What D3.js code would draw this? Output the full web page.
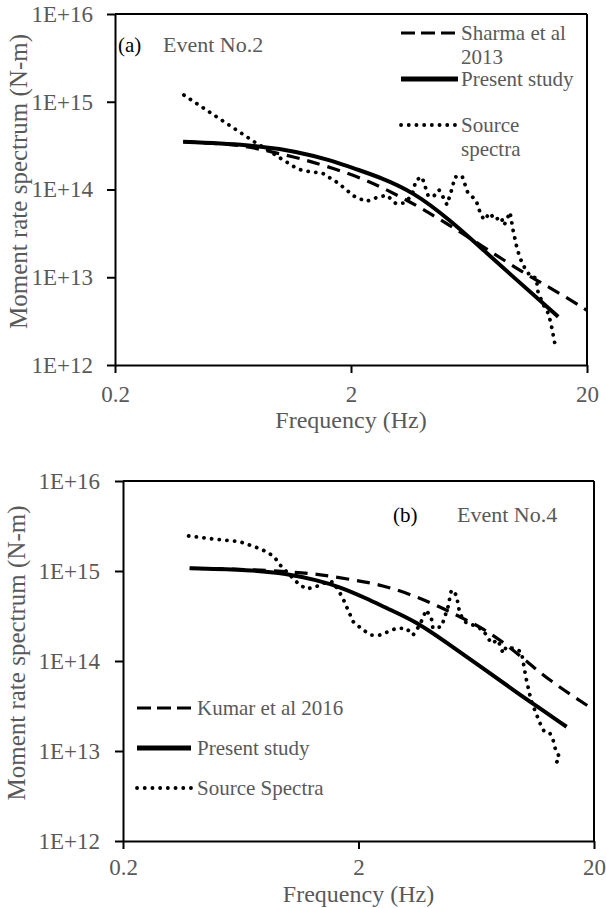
<!DOCTYPE html>
<html><head><meta charset="utf-8">
<script src="https://cdn.jsdelivr.net/npm/d3@7"></script>
<style>body{margin:0;background:#fff}svg{display:block}</style>
</head><body><svg id="c" width="606" height="908"></svg>
<script>
// ---------- data ----------
const xTicks = [0.2, 2, 20];
const xTickLabels = ["0.2", "2", "20"];
const yTicks = [1e12, 1e13, 1e14, 1e15, 1e16];
const yTickLabels = ["1E+12", "1E+13", "1E+14", "1E+15", "1E+16"];

// Panel (a) Event No.2
const aPresentF = [0.389, 0.797, 1.18, 1.63, 2.11, 2.65, 3.67, 5.25, 7.27, 10.07, 13.06, 15.1];
const aPresentM = [3.5e14, 3.2e14, 2.7e14, 2.17e14, 1.70e14, 1.38e14, 9.4e13, 4.5e13, 2.05e13, 9.3e12, 5.05e12, 3.55e12];
const aSharmaF = [0.389, 0.677, 0.907, 1.216, 1.68, 2.33, 2.83, 3.44, 4.19, 5.09, 7.27, 11.1, 13.9, 20];
const aSharmaM = [3.5e14, 3.26e14, 2.7e14, 2.27e14, 1.75e14, 1.28e14, 9.9e13, 7.6e13, 5.6e13, 4.1e13, 2.23e13, 1.06e13, 7.7e12, 4.2e12];
const aSourceF = [0.392, 0.792, 0.848, 1.00, 1.17, 1.26, 1.51, 1.76, 2.06, 2.32, 2.60, 2.84, 3.10, 3.35, 3.63, 3.77, 4.00, 4.24, 4.45, 4.72, 4.91, 5.10, 5.31, 5.52, 5.91, 6.26, 6.77, 7.04, 7.32, 7.76, 8.15, 8.64, 8.90, 9.44, 9.72, 10.1, 10.4, 10.9, 11.5, 12.2, 12.4, 13.1, 13.7, 14.1, 14.6];
const aSourceM = [1.19e15, 3.39e14, 3.05e14, 2.29e14, 1.76e14, 1.63e14, 1.54e14, 1.19e14, 8.4e13, 7.3e13, 8.2e13, 8.6e13, 6.9e13, 7.0e13, 8.6e13, 1.28e14, 1.39e14, 8.6e13, 8.2e13, 9.9e13, 8.2e13, 6.7e13, 9.4e13, 1.39e14, 1.43e14, 9.1e13, 7.6e13, 5.5e13, 4.5e13, 5.4e13, 4.5e13, 4.9e13, 3.9e13, 5.5e13, 3.46e13, 2.15e13, 1.66e13, 1.27e13, 1.03e13, 9.8e12, 6.8e12, 4.8e12, 3.9e12, 2.9e12, 1.78e12];

// Panel (b) Event No.4
const bPresentF = [0.384, 0.690, 0.988, 1.33, 1.66, 2.16, 2.71, 3.52, 4.88, 6.76, 9.37, 11.4, 15.3];
const bPresentM = [1.07e15, 1.03e15, 9.4e14, 7.9e14, 6.7e14, 4.98e14, 3.72e14, 2.73e14, 1.51e14, 8.3e13, 4.5e13, 3.16e13, 1.86e13];
const bKumarF = [0.384, 0.690, 0.988, 1.33, 1.83, 2.54, 3.52, 4.43, 5.38, 6.76, 8.77, 11.0, 13.8, 20];
const bKumarM = [1.07e15, 1.045e15, 9.8e14, 9.3e14, 8.1e14, 7.0e14, 5.2e14, 4.0e14, 3.1e14, 2.31e14, 1.44e14, 8.6e13, 5.4e13, 2.86e13];
const bSourceF = [0.380, 0.497, 0.624, 0.725, 0.813, 0.877, 0.928, 1.107, 1.20, 1.32, 1.42, 1.56, 1.71, 1.78, 1.90, 2.09, 2.27, 2.46, 2.67, 2.90, 3.19, 3.41, 3.64, 3.88, 4.08, 4.14, 4.50, 4.65, 4.80, 4.96, 5.21, 5.38, 5.65, 6.13, 6.76, 7.33, 7.82, 8.22, 8.49, 9.06, 9.83, 10.3, 10.8, 11.2, 11.8, 12.3, 13.0, 13.4, 13.8, 14.3, 13.8];
const bSourceM = [2.45e15, 2.25e15, 2.12e15, 1.86e15, 1.64e15, 1.44e15, 1.17e15, 7.3e14, 6.3e14, 6.7e14, 7.3e14, 7.6e14, 5.1e14, 4.0e14, 2.73e14, 2.21e14, 1.94e14, 1.94e14, 2.12e14, 2.31e14, 2.31e14, 1.94e14, 2.51e14, 3.69e14, 2.98e14, 2.31e14, 2.40e14, 3.10e14, 4.0e14, 6.15e14, 5.4e14, 3.39e14, 2.73e14, 2.51e14, 2.21e14, 1.57e14, 1.71e14, 1.22e14, 1.44e14, 1.38e14, 1.27e14, 6.4e13, 3.69e13, 2.86e13, 2.03e13, 1.64e13, 1.57e13, 1.33e13, 9.8e12, 8.6e12, 7.3e12];

// ---------- drawing ----------
const svg = d3.select("#c");
const GRAY = "#595959";
const SERIF = "'Liberation Serif','Times New Roman',serif";

function zip(F, M) { return F.map((f, i) => ({f, m: M[i]})); }

const panels = [
  {L:115, R:587, T:14, B:365, xPad:13, yPad:14, xTitleY:428, yTitleX:27,
   series:[
     {F:aSharmaF, M:aSharmaM, type:"dash", curve:d3.curveBasis},
     {F:aPresentF, M:aPresentM, type:"solid", curve:d3.curveBasis},
     {F:aSourceF, M:aSourceM, type:"dot", curve:d3.curveLinear}
   ],
   tag:"(a)", tagX:118, tagY:52, title:"Event No.2", titleX:163, titleY:52,
   legend:{x1:401, x2:458, tx:461, rows:[
     {type:"dash", y:33, lines:["Sharma et al", "2013"]},
     {type:"solid", y:79, lines:["Present study"]},
     {type:"dot", y:125, lines:["Source", "spectra"]}
   ]}},
  {L:123, R:594, T:481, B:841, xPad:9.5, yPad:15, xTitleY:902, yTitleX:25,
   series:[
     {F:bKumarF, M:bKumarM, type:"dash", curve:d3.curveBasis},
     {F:bPresentF, M:bPresentM, type:"solid", curve:d3.curveBasis},
     {F:bSourceF, M:bSourceM, type:"dot", curve:d3.curveLinear}
   ],
   tag:"(b)", tagX:393, tagY:522, title:"Event No.4", titleX:457, titleY:522,
   legend:{x1:137, x2:191, tx:197, rows:[
     {type:"dash", y:708, lines:["Kumar et al 2016"]},
     {type:"solid", y:748, lines:["Present study"]},
     {type:"dot", y:788, lines:["Source Spectra"]}
   ]}}
];

function styleLine(sel, type, legend) {
  sel.attr("fill", "none").attr("stroke", "#000");
  if (type === "solid") sel.attr("stroke-width", legend ? 5 : 4).attr("stroke-linejoin", "round");
  if (type === "dash") sel.attr("stroke-width", 3.2).attr("stroke-dasharray", legend ? "14 6" : "13 8");
  if (type === "dot") sel.attr("stroke-width", 3.8).attr("stroke-linecap", "round").attr("stroke-dasharray", "0.1 7.6");
  return sel;
}

panels.forEach(p => {
  const x = d3.scaleLog().domain([0.2, 20]).range([p.L, p.R]);
  const y = d3.scaleLog().domain([1e12, 1e16]).range([p.B, p.T]);
  const g = svg.append("g");

  // frame (top + right)
  g.append("line").attr("x1", p.L).attr("x2", p.R).attr("y1", p.T).attr("y2", p.T)
    .attr("stroke", "#000").attr("stroke-width", 2);
  g.append("line").attr("x1", p.R).attr("x2", p.R).attr("y1", p.T).attr("y2", p.B)
    .attr("stroke", "#000").attr("stroke-width", 2);

  const xa = g.append("g").attr("transform", `translate(0,${p.B})`)
    .call(d3.axisBottom(x).tickValues(xTicks).tickFormat((d, i) => xTickLabels[i])
      .tickSizeInner(8).tickSizeOuter(0).tickPadding(p.xPad));
  const ya = g.append("g").attr("transform", `translate(${p.L},0)`)
    .call(d3.axisLeft(y).tickValues(yTicks).tickFormat((d, i) => yTickLabels[i])
      .tickSizeInner(8).tickSizeOuter(0).tickPadding(p.yPad));
  [xa, ya].forEach(a => {
    a.select(".domain").attr("stroke", "#000").attr("stroke-width", 2);
    a.selectAll(".tick line").attr("stroke", "#000").attr("stroke-width", 2);
    a.selectAll(".tick text").attr("fill", GRAY).style("font-family", SERIF).style("font-size", "23px");
    a.attr("font-family", null).attr("font-size", null);
  });

  // axis titles
  g.append("text").attr("x", (p.L + p.R) / 2).attr("y", p.xTitleY).attr("text-anchor", "middle")
    .attr("fill", GRAY).style("font-family", SERIF).style("font-size", "24px").text("Frequency (Hz)");
  g.append("text").attr("transform", `translate(${p.yTitleX},${(p.T + p.B) / 2 - 8}) rotate(-90)`)
    .attr("text-anchor", "middle").attr("fill", GRAY).style("font-family", SERIF).style("font-size", "25px")
    .text("Moment rate spectrum (N-m)");

  // series
  p.series.forEach(s => {
    const line = d3.line().x(d => x(d.f)).y(d => y(d.m)).curve(s.curve);
    styleLine(g.append("path").datum(zip(s.F, s.M)).attr("d", line), s.type, false);
  });

  // tag + title
  g.append("text").attr("x", p.tagX).attr("y", p.tagY).attr("fill", "#000")
    .style("font-family", SERIF).style("font-size", "21px").text(p.tag);
  g.append("text").attr("x", p.titleX).attr("y", p.titleY).attr("fill", GRAY)
    .style("font-family", SERIF).style("font-size", "22px").text(p.title);

  // legend
  p.legend.rows.forEach(r => {
    styleLine(g.append("line").attr("x1", p.legend.x1).attr("x2", p.legend.x2)
      .attr("y1", r.y).attr("y2", r.y), r.type, true);
    r.lines.forEach((t, i) => {
      g.append("text").attr("x", p.legend.tx).attr("y", r.y + 7 + i * 24).attr("fill", GRAY)
        .style("font-family", SERIF).style("font-size", "21px").text(t);
    });
  });
});
</script>
</body></html>
